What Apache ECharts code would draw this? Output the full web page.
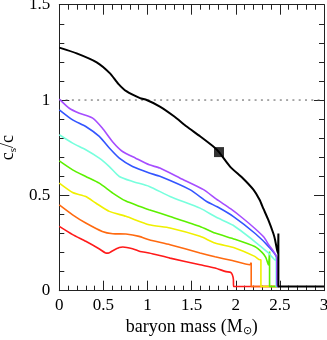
<!DOCTYPE html>
<html><head><meta charset="utf-8">
<script src="https://cdn.jsdelivr.net/npm/echarts@6/dist/echarts.min.js"></script>
<style>html,body{margin:0;padding:0;background:#fff}#c{width:327px;height:340px}</style>
</head><body><div id="c"></div>
<script>
// [baryon mass, c_s/c]
const blackCurve = [[0,1.275],[0.197,1.245],[0.424,1.198],[0.575,1.14],[0.669,1.085],[0.764,1.045],[0.915,1.01],[0.99,1.0],[1.14,0.966],[1.30,0.915],[1.444,0.861],[1.595,0.81],[1.746,0.756],[1.81,0.727],[1.935,0.651],[2.08,0.59],[2.2,0.53],[2.27,0.477],[2.313,0.43],[2.37,0.37],[2.426,0.30],[2.446,0.266],[2.476,0.196],[2.483,0.30],[2.483,0.022],[3.0,0.022]];
const purpleCurve = [[0,1.005],[0.113,0.957],[0.227,0.931],[0.378,0.905],[0.487,0.853],[0.606,0.78],[0.716,0.73],[0.865,0.695],[1.02,0.66],[1.14,0.643],[1.37,0.59],[1.635,0.53],[1.78,0.48],[1.94,0.43],[2.08,0.38],[2.22,0.325],[2.32,0.28],[2.375,0.24],[2.43,0.205],[2.465,0.175],[2.468,0.022],[2.483,0.022]];
const blueCurve = [[0,0.949],[0.151,0.896],[0.30,0.861],[0.453,0.809],[0.567,0.748],[0.68,0.695],[0.83,0.651],[1.02,0.617],[1.14,0.60],[1.48,0.53],[1.67,0.468],[1.79,0.44],[1.97,0.39],[2.22,0.30],[2.375,0.23],[2.465,0.172],[2.468,0.022],[2.483,0.022]];
const cyanCurve = [[0,0.818],[0.151,0.774],[0.30,0.739],[0.453,0.695],[0.567,0.651],[0.68,0.599],[0.83,0.573],[1.02,0.547],[1.255,0.494],[1.595,0.433],[1.78,0.385],[1.97,0.343],[2.215,0.258],[2.37,0.198],[2.45,0.16],[2.458,0.19],[2.458,0.022],[2.483,0.022]];
const greenCurve = [[0,0.681],[0.151,0.634],[0.30,0.599],[0.453,0.564],[0.606,0.512],[0.755,0.47],[0.915,0.442],[1.017,0.425],[1.255,0.389],[1.595,0.337],[1.765,0.302],[1.99,0.27],[2.215,0.232],[2.30,0.20],[2.34,0.175],[2.37,0.135],[2.383,0.206],[2.383,0.022],[2.483,0.022]];
const yellowCurve = [[0,0.564],[0.151,0.515],[0.30,0.494],[0.413,0.46],[0.567,0.416],[0.755,0.39],[1.017,0.346],[1.255,0.329],[1.595,0.285],[1.765,0.25],[1.99,0.224],[2.215,0.18],[2.275,0.162],[2.285,0.162],[2.285,0.022],[2.483,0.022]];
const orangeCurve = [[0,0.45],[0.151,0.398],[0.30,0.355],[0.487,0.311],[0.606,0.299],[0.755,0.297],[0.905,0.285],[1.017,0.267],[1.255,0.241],[1.595,0.198],[1.765,0.178],[1.96,0.158],[2.16,0.136],[2.175,0.147],[2.175,0.022],[2.483,0.022]];
const redCurve = [[0,0.337],[0.151,0.294],[0.30,0.259],[0.45,0.22],[0.525,0.198],[0.555,0.197],[0.606,0.21],[0.68,0.226],[0.72,0.229],[0.83,0.22],[0.915,0.206],[1.017,0.198],[1.255,0.171],[1.595,0.136],[1.765,0.119],[1.89,0.10],[1.94,0.097],[1.96,0.085],[1.973,0.06],[1.975,0.022],[2.483,0.022]];
const markerPoint = [[1.81,0.727]];
const unityLine = [[0,1],[3,1]];
const xTicks = {min:0, max:3, step:0.5};
const yTicks = {min:0, max:1.5, step:0.5};

const font = 'Liberation Serif';
const axisColor = '#222';
function axisBase(pos, show){
  return {
    type:'value', position:pos,
    axisLine:{show:true, onZero:false, lineStyle:{color:axisColor, width:1}},
    axisTick:{show:true, inside:true, length:10, lineStyle:{color:axisColor}},
    minorTick:{show:true, splitNumber:5, length:5, lineStyle:{color:axisColor}},
    splitLine:{show:false}, minorSplitLine:{show:false},
    axisLabel:{show:show, color:'#000', fontFamily:font, fontSize:17}
  };
}
const xb = Object.assign(axisBase('bottom', true), {min:xTicks.min, max:xTicks.max, interval:xTicks.step,
  name:'baryon mass (M{sub|⊙})', nameLocation:'middle', nameGap:26,
  nameTextStyle:{color:'#000', fontFamily:font, fontSize:18, rich:{sub:{fontFamily:font, fontSize:11, verticalAlign:'bottom', padding:[8,0,0,0]}}}});
xb.axisLabel.margin = 6;
const xt = Object.assign(axisBase('top', false), {min:xTicks.min, max:xTicks.max, interval:xTicks.step});
const yl = Object.assign(axisBase('left', true), {min:yTicks.min, max:yTicks.max, interval:yTicks.step,
  name:'c{sub|s}/c', nameLocation:'middle', nameGap:40,
  nameTextStyle:{color:'#000', fontFamily:font, fontSize:18, rich:{sub:{fontFamily:font, fontSize:11, verticalAlign:'bottom', padding:[8,0,0,0]}}}});
yl.axisLabel.margin = 9;
const yr = Object.assign(axisBase('right', false), {min:yTicks.min, max:yTicks.max, interval:yTicks.step});

function curve(data, color, w){
  return {type:'line', data:data, showSymbol:false, symbol:'none', smooth:0.2, animation:false,
    xAxisIndex:0, yAxisIndex:0, lineStyle:{color:color, width:w}, silent:true};
}
const chart = echarts.init(document.getElementById('c'), null, {renderer:'canvas'});
chart.setOption({
  animation:false,
  grid:{left:59.3, right:3, top:4.7, bottom:49.3, containLabel:false, outerBoundsMode:'none'},
  xAxis:[xb, xt], yAxis:[yl, yr],
  series:[
    {type:'line', data:unityLine, showSymbol:false, symbol:'none', xAxisIndex:0, yAxisIndex:0,
      lineStyle:{color:'#555', width:1, type:[2,4.3]}},
    curve(redCurve, '#ff1a1a', 1.6),
    curve(orangeCurve, '#ff6a10', 1.6),
    curve(yellowCurve, '#f0f000', 1.6),
    curve(greenCurve, '#5cf000', 1.6),
    curve(cyanCurve, '#77ffdd', 1.6),
    curve(blueCurve, '#3355ff', 1.6),
    curve(purpleCurve, '#a64dff', 1.6),
    curve(blackCurve, '#000', 2),
    {type:'scatter', data:markerPoint, symbol:'rect', symbolSize:10, xAxisIndex:0, yAxisIndex:0,
      itemStyle:{color:'#000'}, z:5}
  ]
});
</script></body></html>
